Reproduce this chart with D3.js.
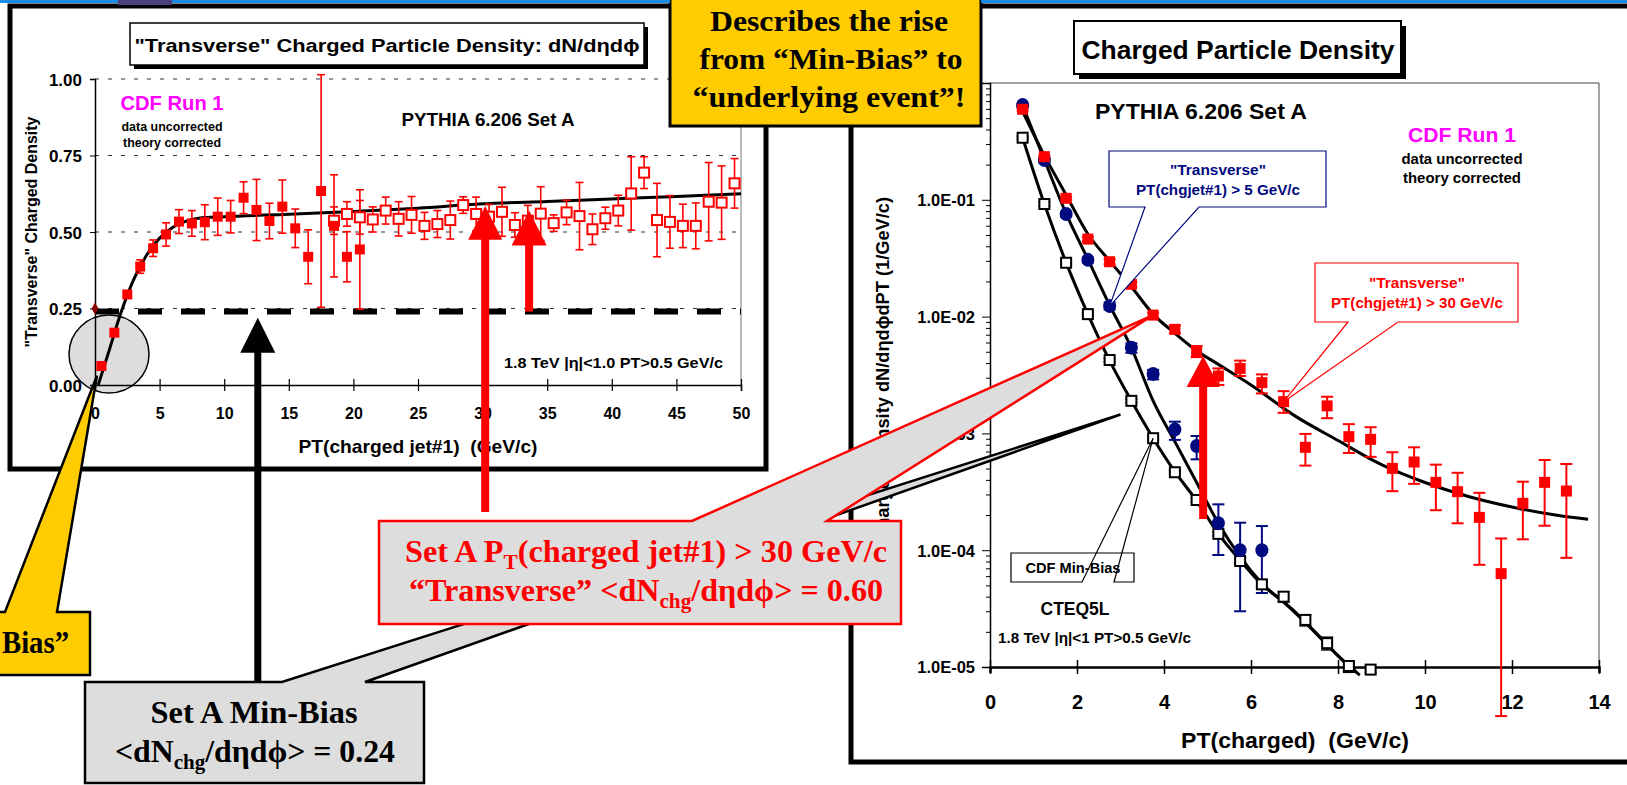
<!DOCTYPE html>
<html>
<head>
<meta charset="utf-8">
<script src="https://cdn.jsdelivr.net/npm/d3@7"></script>
<style>
  html, body { margin: 0; padding: 0; background: #fff; overflow: hidden; }
  svg { display: block; }
  text { font-family: "Liberation Sans", Arial, sans-serif; font-weight: bold; white-space: pre; }
  text.serif { font-family: "Liberation Serif", "Times New Roman", serif; }
</style>
</head>
<body>
<svg id="slide" width="1627" height="785"></svg>
<script>
(function() {

// ---------- left chart: "Transverse" density vs PT(charged jet#1)
const jetPtFilled = [0.5, 1.5, 2.5, 3.5, 4.5, 5.5, 6.5, 7.5, 8.5, 9.5, 10.5, 11.5, 12.5, 13.5, 14.5, 15.5, 16.5, 17.5, 18.5, 19.5, 20.5];
const densFilled = [0.062, 0.171, 0.296, 0.387, 0.447, 0.492, 0.534, 0.528, 0.532, 0.55, 0.55, 0.612, 0.572, 0.536, 0.583, 0.512, 0.419, 0.634, 0.52, 0.419, 0.443];
const errFilled = [0.005, 0.008, 0.012, 0.022, 0.027, 0.038, 0.039, 0.042, 0.057, 0.061, 0.053, 0.052, 0.1, 0.058, 0.087, 0.063, 0.088, 0.38, 0.167, 0.082, 0.195];

const jetPtOpen = [18.5, 19.5, 20.5, 21.5, 22.5, 23.5, 24.5, 25.5, 26.5, 27.5, 28.5, 29.5, 30.5, 31.5, 32.5, 33.5, 34.5, 35.5, 36.5, 37.5, 38.5, 39.5, 40.5, 41.5, 42.5, 43.5, 44.5, 45.5, 46.5, 47.5, 48.5, 49.5];
const densOpen = [0.537, 0.559, 0.548, 0.541, 0.57, 0.543, 0.556, 0.52, 0.526, 0.539, 0.588, 0.559, 0.55, 0.566, 0.523, 0.537, 0.56, 0.529, 0.564, 0.552, 0.509, 0.545, 0.57, 0.626, 0.694, 0.539, 0.533, 0.52, 0.52, 0.599, 0.596, 0.659];
const errOpen = [0.045, 0.04, 0.055, 0.041, 0.044, 0.056, 0.06, 0.044, 0.044, 0.062, 0.027, 0.055, 0.04, 0.08, 0.04, 0.05, 0.088, 0.027, 0.04, 0.11, 0.05, 0.036, 0.05, 0.12, 0.052, 0.12, 0.086, 0.071, 0.075, 0.128, 0.12, 0.081];

const pythiaJetPt = [0.25, 1, 2, 3, 4, 5, 6, 7, 8, 10, 15, 20, 25, 30, 35, 40, 45, 50];
const pythiaDens = [0.0, 0.1, 0.235, 0.345, 0.425, 0.48, 0.515, 0.535, 0.545, 0.55, 0.558, 0.567, 0.578, 0.592, 0.6, 0.608, 0.616, 0.625];
const minBiasLevel = 0.24;

const leftXTicks = [0, 5, 10, 15, 20, 25, 30, 35, 40, 45, 50];
const leftYTicks = [0, 0.25, 0.5, 0.75, 1.0];

// ---------- right chart: charged particle density vs PT(charged)
const pt30 = [0.75, 1.25, 1.75, 2.25, 2.75, 3.25, 3.75, 4.25, 4.75, 5.25, 5.75, 6.25, 6.75, 7.25, 7.75, 8.25, 8.75, 9.25, 9.75, 10.25, 10.75, 11.25, 11.75, 12.25, 12.75, 13.25];
const dens30 = [0.596, 0.234, 0.103, 0.0461, 0.0295, 0.0189, 0.0103, 0.00778, 0.00501, 0.0031, 0.0036, 0.00272, 0.00187, 0.00076, 0.00172, 0.000938, 0.000889, 0.000502, 0.000569, 0.000381, 0.000317, 0.000191, 0.000063, 0.000252, 0.000381, 0.000321];
const dens30Hi = [0.61, 0.24, 0.106, 0.048, 0.031, 0.0198, 0.0108, 0.0084, 0.0056, 0.0036, 0.0042, 0.0032, 0.0023, 0.00099, 0.00206, 0.0012, 0.00113, 0.00069, 0.00076, 0.00054, 0.00046, 0.00031, 0.000126, 0.000386, 0.000592, 0.000547];
const dens30Lo = [0.58, 0.228, 0.1, 0.044, 0.028, 0.018, 0.0098, 0.0072, 0.0045, 0.0026, 0.0031, 0.0022, 0.0015, 0.00053, 0.00135, 0.00068, 0.00063, 0.00032, 0.00037, 0.00022, 0.00017, 0.000075, 0.0000038, 0.000124, 0.000162, 0.000086];

const pt5 = [0.75, 1.25, 1.75, 2.25, 2.75, 3.25, 3.75, 4.25, 4.75, 5.25, 5.75, 6.25];
const dens5 = [0.649, 0.219, 0.0755, 0.0306, 0.0123, 0.00542, 0.00323, 0.00108, 0.00078, 0.00017, 0.0001, 0.0001];
const dens5Hi = [0.66, 0.225, 0.078, 0.032, 0.0132, 0.0059, 0.0035, 0.00126, 0.00095, 0.000247, 0.000172, 0.000161];
const dens5Lo = [0.63, 0.21, 0.072, 0.029, 0.0115, 0.0049, 0.0029, 0.00088, 0.0006, 0.000091, 0.00003, 0.000043];

const ptMb = [0.75, 1.25, 1.75, 2.25, 2.75, 3.25, 3.75, 4.25, 4.75, 5.25, 5.75, 6.25, 6.75, 7.25, 7.75, 8.25, 8.75];
const densMb = [0.34, 0.092, 0.0289, 0.0105, 0.00425, 0.0019, 0.00091, 0.000465, 0.000269, 0.000138, 0.0000808, 0.000051, 0.00004, 0.0000253, 0.000016, 0.0000102, 0.0000095];
const densMbHi = [0.35, 0.095, 0.0298, 0.0108, 0.0044, 0.00196, 0.00094, 0.00048, 0.000278, 0.000143, 0.000085, 0.000054, 0.000044, 0.000028, 0.000018, 0.000011, 0.00001];
const densMbLo = [0.33, 0.089, 0.028, 0.0102, 0.0041, 0.00184, 0.00088, 0.00045, 0.00026, 0.000133, 0.000077, 0.000048, 0.000036, 0.0000225, 0.000014, 0.000009, 0.000009];

const curve30Pt = [0.75, 1.25, 1.75, 2.25, 2.75, 3.25, 3.75, 4.25, 4.75, 5.25, 6, 7, 8, 9, 10, 11, 12, 13, 13.75];
const curve30 = [0.57, 0.24, 0.11, 0.051, 0.03, 0.018, 0.0105, 0.0072, 0.0051, 0.0039, 0.0026, 0.00142, 0.00087, 0.00054, 0.00038, 0.000288, 0.000234, 0.0002, 0.000184];
const curve5Pt = [0.75, 1.25, 1.75, 2.25, 2.75, 3.25, 3.75, 4.25, 4.75, 5.25, 5.75, 6.25, 7, 7.5, 8, 8.5];
const curve5 = [0.64, 0.22, 0.076, 0.031, 0.0125, 0.0054, 0.0019, 0.00085, 0.00038, 0.00017, 0.000088, 0.000052, 0.00003, 0.0000195, 0.0000125, 0.0000085];
const curveMbPt = [0.75, 1.25, 1.75, 2.25, 2.75, 3.25, 3.75, 4.25, 4.75, 5.25, 5.75, 6.25, 6.75, 7.25, 7.75, 8.25, 8.4];
const curveMb = [0.34, 0.092, 0.029, 0.0105, 0.0042, 0.0019, 0.00091, 0.00047, 0.000265, 0.000138, 0.000082, 0.000051, 0.000036, 0.000024, 0.0000155, 0.0000102, 0.0000092];

const rightXTicks = [0, 2, 4, 6, 8, 10, 12, 14];
const rightYTicks = [1e-5, 1e-4, 1e-3, 1e-2, 1e-1, 1];
const rightYMinor = [2, 3, 4, 5, 6, 7, 8, 9];

const RED = '#ff0000';
const NAVY = '#000a80';
const MAGENTA = '#ff00ff';
const GOLD = '#ffcc00';
const GREY = '#dddddd';

const svg = d3.select('#slide');
svg.append('rect').attr('width', 1627).attr('height', 785).attr('fill', '#fff');

function label(g, x, y, s, size, o) {
  o = o || {};
  const t = g.append('text')
    .attr('x', x).attr('y', y)
    .attr('font-size', size)
    .attr('text-anchor', o.anchor || 'middle')
    .attr('fill', o.fill || '#000')
    .text(s);
  if (o.len) t.attr('textLength', o.len).attr('lengthAdjust', 'spacingAndGlyphs');
  if (o.serif) t.attr('class', 'serif');
  if (o.rotate) t.attr('transform', 'rotate(-90,' + x + ',' + y + ')');
  return t;
}

// text with a subscript part: parts = [[text, isSub, backUp], ...]
function subLabel(g, x, y, parts, size, o) {
  const t = g.append('text')
    .attr('x', x).attr('y', y)
    .attr('font-size', size)
    .attr('text-anchor', 'middle')
    .attr('fill', o.fill)
    .attr('class', 'serif');
  parts.forEach((p) => {
    if (p[1]) {
      t.append('tspan').attr('font-size', size * 0.66).attr('dy', size * 0.22).text(p[0]);
    } else {
      t.append('tspan').attr('dy', p[2] ? -size * 0.22 : 0).text(p[0]);
    }
  });
  if (o.len) t.attr('textLength', o.len).attr('lengthAdjust', 'spacingAndGlyphs');
  return t;
}

function arrow(g, x, tipY, baseY, bottomY, halfW, shaftW, color) {
  const s = shaftW / 2;
  g.append('path')
    .attr('d', `M${x - s},${bottomY} L${x - s},${baseY} L${x - halfW},${baseY} L${x},${tipY} L${x + halfW},${baseY} L${x + s},${baseY} L${x + s},${bottomY} Z`)
    .attr('fill', color);
}

// ================= LEFT PANEL =================
const xL = d3.scaleLinear().domain([0, 50]).range([95, 741]);
const yL = d3.scaleLinear().domain([0, 1]).range([385, 79]);

const left = svg.append('g');
left.append('rect').attr('x', 10).attr('y', 6).attr('width', 756).attr('height', 463)
  .attr('fill', '#fff').attr('stroke', '#000').attr('stroke-width', 5);

// title box with drop shadow
left.append('rect').attr('x', 134).attr('y', 27).attr('width', 514).attr('height', 42).attr('fill', '#000');
left.append('rect').attr('x', 130).attr('y', 23).attr('width', 514).attr('height', 42)
  .attr('fill', '#fff').attr('stroke', '#000').attr('stroke-width', 1.5);
label(left, 387, 52, '"Transverse" Charged Particle Density: dN/dηdϕ', 19, { len: 505 });

// grid lines
left.selectAll('.grid').data(leftYTicks.filter((d) => d > 0)).enter().append('line')
  .attr('x1', xL(0)).attr('x2', xL(50))
  .attr('y1', (d) => yL(d)).attr('y2', (d) => yL(d))
  .attr('stroke', '#333').attr('stroke-width', 1).attr('stroke-dasharray', '4,9');
left.append('line').attr('x1', xL(50)).attr('x2', xL(50)).attr('y1', yL(1)).attr('y2', yL(0))
  .attr('stroke', '#777').attr('stroke-width', 1);

// grey circle around the origin
left.append('ellipse').attr('cx', 109).attr('cy', 354).attr('rx', 40).attr('ry', 39)
  .attr('fill', GREY).attr('stroke', '#000').attr('stroke-width', 1.5);

// axes
const axL = left.append('g').attr('transform', `translate(0,${yL(0)})`)
  .call(d3.axisBottom(xL).tickValues(leftXTicks).tickSizeOuter(0).tickSize(6));
axL.select('.domain').attr('stroke-width', 1.5);
axL.selectAll('.tick line').attr('y1', -6).attr('y2', 6).attr('stroke-width', 1.2);
axL.selectAll('.tick text').attr('y', 34).attr('dy', null)
  .attr('font-size', 16).attr('font-family', null).attr('fill', '#000');

const ayL = left.append('g').attr('transform', `translate(${xL(0)},0)`)
  .call(d3.axisLeft(yL).tickValues(leftYTicks).tickFormat(d3.format('.2f')).tickSizeOuter(0).tickSize(5));
ayL.select('.domain').attr('stroke-width', 1.5);
ayL.selectAll('.tick text').attr('x', -13).attr('dy', '0.36em')
  .attr('font-size', 17).attr('font-family', null).attr('fill', '#000');

label(left, 418, 453, 'PT(charged jet#1)\u00A0\u00A0(GeV/c)', 19, { len: 239 });
label(left, 37, 232, '"Transverse" Charged Density', 16, { len: 231, rotate: true });

// Set A min-bias level
left.append('line').attr('x1', xL(0)).attr('x2', xL(50))
  .attr('y1', yL(minBiasLevel)).attr('y2', yL(minBiasLevel))
  .attr('stroke', '#000').attr('stroke-width', 6).attr('stroke-dasharray', '24,19');
left.append('path').attr('d', d3.symbol(d3.symbolDiamond, 40)())
  .attr('transform', `translate(${xL(0)},${yL(0.25)})`).attr('fill', '#8b0000');

// PYTHIA curve
left.append('path')
  .datum(pythiaJetPt.map((d, i) => [xL(d), yL(pythiaDens[i])]))
  .attr('d', d3.line().curve(d3.curveMonotoneX))
  .attr('fill', 'none').attr('stroke', '#000').attr('stroke-width', 3);

function errBarsLin(g, xs, ys, es, cap) {
  xs.forEach((x, i) => {
    const cx = xL(x), y1 = yL(ys[i] + es[i]), y2 = yL(ys[i] - es[i]);
    g.append('line').attr('x1', cx).attr('x2', cx).attr('y1', y1).attr('y2', y2)
      .attr('stroke', RED).attr('stroke-width', 1.6);
    [y1, y2].forEach((yy) => g.append('line').attr('x1', cx - cap).attr('x2', cx + cap)
      .attr('y1', yy).attr('y2', yy).attr('stroke', RED).attr('stroke-width', 1.6));
  });
}
errBarsLin(left, jetPtOpen, densOpen, errOpen, 4);
errBarsLin(left, jetPtFilled, densFilled, errFilled, 4);

left.selectAll('.openSq').data(jetPtOpen).enter().append('rect')
  .attr('x', (d) => xL(d) - 5).attr('y', (d, i) => yL(densOpen[i]) - 5)
  .attr('width', 10).attr('height', 10)
  .attr('fill', '#fff').attr('stroke', RED).attr('stroke-width', 2);
left.selectAll('.fullSq').data(jetPtFilled).enter().append('rect')
  .attr('x', (d) => xL(d) - 5).attr('y', (d, i) => yL(densFilled[i]) - 5)
  .attr('width', 10).attr('height', 10).attr('fill', RED);

label(left, 172, 110, 'CDF Run 1', 20, { fill: MAGENTA, len: 103 });
label(left, 172, 131, 'data uncorrected', 12.5, { len: 101 });
label(left, 172, 147, 'theory corrected', 12.5, { len: 98 });
label(left, 488, 126, 'PYTHIA 6.206 Set A', 18, { len: 173 });
label(left, 723, 368, '1.8 TeV |η|<1.0 PT>0.5 GeV/c', 14, { anchor: 'end', len: 219 });

// ================= RIGHT PANEL =================
const xR = d3.scaleLinear().domain([0, 14]).range([990, 1599]);
const yR = d3.scaleLog().domain([1e-5, 1]).range([667, 83]);

const right = svg.append('g');
right.append('rect').attr('x', 851).attr('y', 6).attr('width', 800).attr('height', 756)
  .attr('fill', '#fff').attr('stroke', '#000').attr('stroke-width', 5);

right.append('rect').attr('x', 1079).attr('y', 26).attr('width', 327).attr('height', 53).attr('fill', '#000');
right.append('rect').attr('x', 1074).attr('y', 21).attr('width', 327).attr('height', 53)
  .attr('fill', '#fff').attr('stroke', '#000').attr('stroke-width', 2);
label(right, 1238, 59, 'Charged Particle Density', 26, { len: 313 });

// plot frame
right.append('path').attr('d', `M${xR(0)},${yR(1)} L${xR(14)},${yR(1)} L${xR(14)},${yR(1e-5)}`)
  .attr('fill', 'none').attr('stroke', '#444').attr('stroke-width', 1);

const axR = right.append('g').attr('transform', `translate(0,${yR(1e-5)})`)
  .call(d3.axisBottom(xR).tickValues(rightXTicks).tickSizeOuter(0).tickSize(6));
axR.select('.domain').attr('stroke-width', 2.5);
axR.selectAll('.tick line').attr('y1', -7).attr('y2', 7).attr('stroke-width', 1.5);
axR.selectAll('.tick text').attr('y', 42).attr('dy', null)
  .attr('font-size', 20).attr('font-family', null).attr('fill', '#000');

// the 1.0E+00 label sits under the yellow box in the slide, so it is left blank
const sciFmt = (d) => {
  const e = Math.round(Math.log10(d));
  if (e === 0) return '';
  return '1.0E' + (e < 0 ? '-' : '+') + String(Math.abs(e)).padStart(2, '0');
};
const minorVals = [];
rightYTicks.slice(0, -1).forEach((dec) => rightYMinor.forEach((m) => minorVals.push(dec * m)));
right.append('g').attr('transform', `translate(${xR(0)},0)`)
  .call(d3.axisLeft(yR).tickValues(minorVals).tickFormat('').tickSizeOuter(0).tickSize(4))
  .select('.domain').remove();
const ayR = right.append('g').attr('transform', `translate(${xR(0)},0)`)
  .call(d3.axisLeft(yR).tickValues(rightYTicks).tickFormat(sciFmt).tickSizeOuter(0).tickSize(8));
ayR.select('.domain').attr('stroke-width', 1.5);
ayR.selectAll('.tick text').attr('x', -15).attr('dy', '0.36em')
  .attr('font-size', 16.5).attr('font-family', null).attr('fill', '#000');

label(right, 1295, 748, 'PT(charged)\u00A0\u00A0(GeV/c)', 22, { len: 228 });
label(right, 889, 197, 'Charged Density dN/dηdϕdPT (1/GeV/c)', 18, { anchor: 'end', rotate: true, len: 345 });

// PYTHIA curves
const lineR = d3.line().curve(d3.curveMonotoneX);
[[curveMbPt, curveMb], [curve5Pt, curve5], [curve30Pt, curve30]].forEach((c) => {
  right.append('path')
    .datum(c[0].map((d, i) => [xR(d), yR(c[1][i])]))
    .attr('d', lineR)
    .attr('fill', 'none').attr('stroke', '#000').attr('stroke-width', 3);
});

function errBarsLog(g, xs, hi, lo, color, cap, w) {
  xs.forEach((x, i) => {
    const cx = xR(x), y1 = yR(hi[i]), y2 = yR(lo[i]);
    g.append('line').attr('x1', cx).attr('x2', cx).attr('y1', y1).attr('y2', y2)
      .attr('stroke', color).attr('stroke-width', w);
    [y1, y2].forEach((yy) => g.append('line').attr('x1', cx - cap).attr('x2', cx + cap)
      .attr('y1', yy).attr('y2', yy).attr('stroke', color).attr('stroke-width', w));
  });
}
errBarsLog(right, ptMb, densMbHi, densMbLo, '#000', 6, 1.5);
errBarsLog(right, pt5, dens5Hi, dens5Lo, NAVY, 6, 2);
errBarsLog(right, pt30, dens30Hi, dens30Lo, RED, 6, 2);

right.selectAll('.mb').data(ptMb).enter().append('rect')
  .attr('x', (d) => xR(d) - 5).attr('y', (d, i) => yR(densMb[i]) - 5)
  .attr('width', 10).attr('height', 10)
  .attr('fill', '#fff').attr('stroke', '#000').attr('stroke-width', 2);
right.selectAll('.t5').data(pt5).enter().append('ellipse')
  .attr('cx', (d) => xR(d)).attr('cy', (d, i) => yR(dens5[i]))
  .attr('rx', 6.5).attr('ry', 7).attr('fill', NAVY);
right.selectAll('.t30').data(pt30).enter().append('rect')
  .attr('x', (d) => xR(d) - 5.5).attr('y', (d, i) => yR(dens30[i]) - 5.5)
  .attr('width', 11).attr('height', 11).attr('fill', RED);

label(right, 1201, 119, 'PYTHIA 6.206 Set A', 22, { len: 212 });
label(right, 1462, 142, 'CDF Run 1', 21, { fill: MAGENTA, len: 108 });
label(right, 1462, 164, 'data uncorrected', 15, { len: 121 });
label(right, 1462, 183, 'theory corrected', 15, { len: 118 });
label(right, 1075, 615, 'CTEQ5L', 17.5, { len: 69 });
label(right, 998, 643, '1.8 TeV |η|<1 PT>0.5 GeV/c', 14, { anchor: 'start', len: 193 });

// small callouts inside the right chart
function callout(g, box, base, tip, stroke, sw) {
  const [x0, y0, x1, y1] = box;
  g.append('path')
    .attr('d', `M${x0},${y0} L${x1},${y0} L${x1},${y1} L${base[1]},${y1} L${tip[0]},${tip[1]} L${base[0]},${y1} L${x0},${y1} Z`)
    .attr('fill', '#fff').attr('stroke', stroke).attr('stroke-width', sw);
}
callout(right, [1109, 151, 1326, 207], [1145, 1199], [xR(2.75), yR(0.0123)], NAVY, 1.2);
label(right, 1218, 175, '"Transverse"', 15, { fill: NAVY, len: 96 });
label(right, 1218, 195, 'PT(chgjet#1) > 5 GeV/c', 15, { fill: NAVY, len: 164 });

callout(right, [1315, 263, 1518, 322], [1348, 1398], [xR(6.75), yR(0.00187)], RED, 1.2);
label(right, 1417, 288, '"Transverse"', 15, { fill: RED, len: 96 });
label(right, 1417, 308, 'PT(chgjet#1) > 30 GeV/c', 15, { fill: RED, len: 172 });

callout(right, [1011, 553, 1134, 582], [1082, 1114], [xR(3.75), yR(0.00091)], '#000', 1.2);
label(right, 1073, 573, 'CDF Min-Bias', 14.5, { len: 95 });

// ================= ARROWS =================
const notes = svg.append('g');
arrow(notes, xL(12.6), yL(0.22), yL(0.105), 682, 17.5, 7, '#000');
arrow(notes, xL(30.2), yL(0.585), yL(0.475), 512, 17, 8, RED);
arrow(notes, xL(33.6), yL(0.57), yL(0.456), yL(minBiasLevel), 17.5, 8, RED);
arrow(notes, xR(4.9), yR(0.0046), yR(0.0025), yR(0.000185), 16.5, 8, RED);

// ================= BIG CALLOUTS =================
// Set A Min-Bias box, pointing at the CDF Min-Bias curve
const mbTip = [xR(3.0), yR(0.00145)];
notes.append('path')
  .attr('d', `M85,682 L282,682 L${mbTip[0]},${mbTip[1]} L365,682 L424,682 L424,783 L85,783 Z`)
  .attr('fill', GREY).attr('stroke', '#000').attr('stroke-width', 2.5);
label(notes, 254, 723, 'Set A Min-Bias', 32, { serif: true, len: 207 });
subLabel(notes, 255, 762, [['<dN', false], ['chg', true], ['/dηdϕ> = 0.24', false, true]], 32, { fill: '#000', len: 280 });

// Set A PT > 30 box, pointing at the "Transverse" PT > 30 data
const t30Tip = [xR(3.75), yR(0.0103)];
notes.append('path')
  .attr('d', `M379,521 L692,521 L${t30Tip[0]},${t30Tip[1]} L827,521 L901,521 L901,624 L379,624 Z`)
  .attr('fill', GREY).attr('stroke', RED).attr('stroke-width', 2.5);
subLabel(notes, 646, 562, [['Set A P', false], ['T', true], ['(charged jet#1) > 30 GeV/c', false, true]], 32, { fill: RED, len: 482 });
subLabel(notes, 646, 601, [['\u201CTransverse\u201D <dN', false], ['chg', true], ['/dηdϕ> = 0.60', false, true]], 32, { fill: RED, len: 474 });

// yellow "Min-Bias" box at the bottom left (runs off the slide edge), pointing at the origin
const ybTip = [xL(0.15), yL(0.03)];
notes.append('path')
  .attr('d', `M-10,612 L5,612 L${ybTip[0]},${ybTip[1]} L57,612 L90,612 L90,675 L-10,675 Z`)
  .attr('fill', GOLD).attr('stroke', '#000').attr('stroke-width', 2.5);
label(notes, 2, 653, 'Bias\u201D', 31, { serif: true, anchor: 'start', len: 67 });

// yellow box at the top
notes.append('rect').attr('x', 670).attr('y', -5).attr('width', 311).attr('height', 131)
  .attr('fill', GOLD).attr('stroke', '#000').attr('stroke-width', 3);
label(notes, 829, 31, 'Describes the rise', 30, { serif: true, len: 238 });
label(notes, 831, 69, 'from \u201CMin-Bias\u201D to', 30, { serif: true, len: 263 });
label(notes, 829, 107, '\u201Cunderlying event\u201D!', 30, { serif: true, len: 273 });

// slide top band
svg.append('rect').attr('x', 0).attr('y', 0).attr('width', 670).attr('height', 3).attr('fill', '#1a8ce6');
svg.append('rect').attr('x', 981).attr('y', 0).attr('width', 646).attr('height', 3).attr('fill', '#1a8ce6');
svg.append('rect').attr('x', 118).attr('y', 0).attr('width', 54).attr('height', 5).attr('fill', '#4b3f7c');

})();
</script>
</body>
</html>
